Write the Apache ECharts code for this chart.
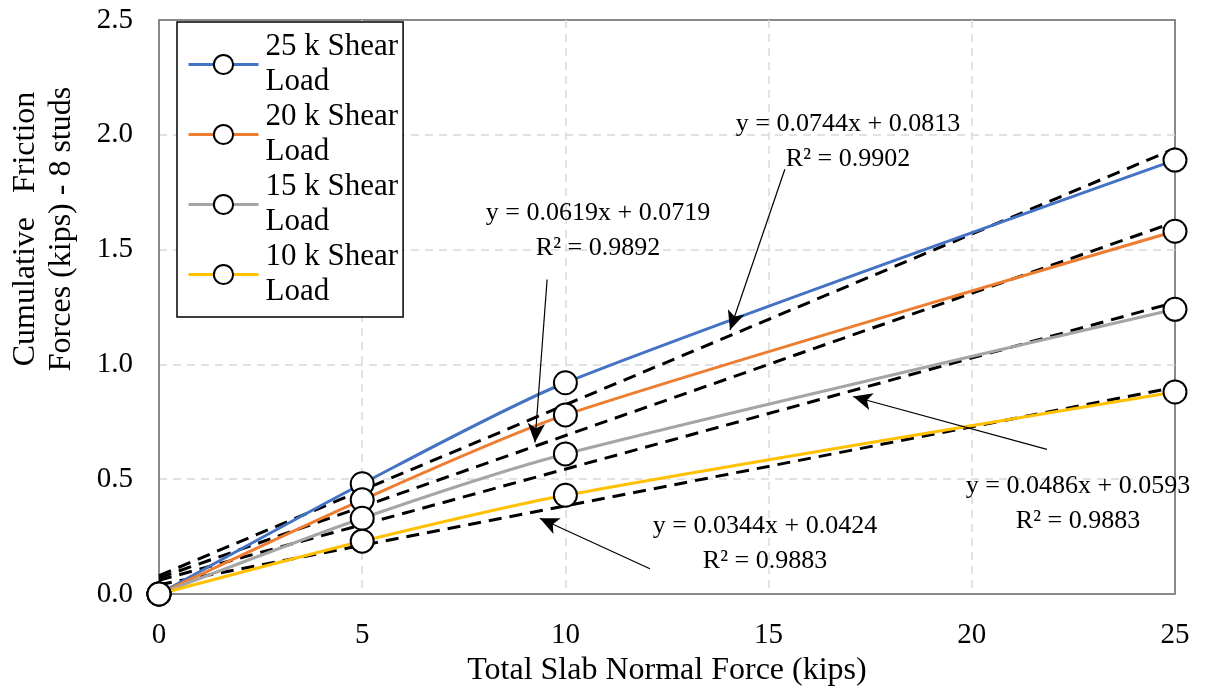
<!DOCTYPE html>
<html>
<head>
<meta charset="utf-8">
<script src="https://cdn.jsdelivr.net/npm/echarts@6/dist/echarts.min.js"></script>
<style>
  html, body { margin: 0; padding: 0; background: #fff; }
  #frictionChart { width: 1225px; height: 690px; }
</style>
</head>
<body>
<div id="frictionChart"></div>
<script>
// 数据
const normalForce = [0, 5, 10, 25];
const seriesNames = ['25 k Shear Load', '20 k Shear Load', '15 k Shear Load', '10 k Shear Load'];
const shear25 = [0, 0.48, 0.92, 1.89];
const shear20 = [0, 0.41, 0.78, 1.58];
const shear15 = [0, 0.33, 0.61, 1.24];
const shear10 = [0, 0.23, 0.43, 0.88];
const colors = ['#4472C4', '#ED7D31', '#A5A5A5', '#FFC000'];

// 趋势线端点 (x = 0 和 x = 25)
const trendX = [0, 25];
const trend25 = [0.08, 1.94];
const trend20 = [0.07, 1.62];
const trend15 = [0.06, 1.27];
const trend10 = [0.04, 0.90];

const eqText = [
  ['y = 0.0744x + 0.0813', 'R² = 0.9902'],
  ['y = 0.0619x + 0.0719', 'R² = 0.9892'],
  ['y = 0.0486x + 0.0593', 'R² = 0.9883'],
  ['y = 0.0344x + 0.0424', 'R² = 0.9883']
];
// 箭头 (起点, 终点) 数据坐标
const arrows = [
  [[15.40, 1.85], [14.05, 1.15]],
  [[9.55, 1.37], [9.25, 0.66]],
  [[21.85, 0.63], [17.08, 0.86]],
  [[12.08, 0.11], [9.37, 0.33]]
];

const font = '"Liberation Serif", "Times New Roman", serif';
const pairs = (xs, ys) => xs.map((x, i) => [x, ys[i]]);
const dataSets = [shear25, shear20, shear15, shear10];
const trendSets = [trend25, trend20, trend15, trend10];

let series = [];
dataSets.forEach((d, i) => {
  series.push({
    name: seriesNames[i],
    type: 'line',
    data: pairs(normalForce, d),
    smooth: 0.25,
    symbol: 'circle',
    symbolSize: 23,
    z: 4,
    lineStyle: { color: colors[i], width: 3 },
    itemStyle: { color: '#fff', borderColor: '#000', borderWidth: 2 }
  });
});
trendSets.forEach((d, i) => {
  series.push({
    name: 'trend' + i,
    type: 'line',
    data: pairs(trendX, d),
    symbol: 'none',
    z: 3,
    silent: true,
    lineStyle: { color: '#000', width: 3, type: [13, 8] }
  });
});
// 箭头
series.push({
  name: 'arrows',
  type: 'line',
  data: [],
  silent: true,
  markLine: {
    silent: true,
    symbol: ['none', 'arrow'],
    symbolSize: [13, 19],
    label: { show: false },
    lineStyle: { color: '#000', width: 1.2, type: 'solid' },
    data: arrows.map(a => [{ coord: a[0] }, { coord: a[1] }])
  }
});

// 公式文字中心位置
const eqPos = [[848, 142], [598, 231], [1078, 504], [765, 544]];
let graphics = [];
eqText.forEach((t, i) => {
  graphics.push({
    type: 'text',
    x: eqPos[i][0],
    y: eqPos[i][1],
    z: 10,
    style: {
      text: t[0] + '\n' + t[1],
      font: '26px ' + font,
      fill: '#000',
      align: 'center',
      verticalAlign: 'middle',
      lineHeight: 35
    }
  });
});

const gridLine = { show: true, showMinLine: false, showMaxLine: false, lineStyle: { color: '#d9d9d9', width: 1.5, type: [8, 6] } };

const option = {
  animation: false,
  backgroundColor: '#fff',
  grid: {
    left: 159, right: 50, top: 20, bottom: 96,
    outerBoundsMode: 'none',
    containLabel: false,
    show: true, borderColor: '#898989', borderWidth: 2
  },
  legend: {
    data: seriesNames,
    left: 177,
    top: 22,
    orient: 'vertical',
    backgroundColor: '#fff',
    borderColor: '#000',
    borderWidth: 1.5,
    borderRadius: 0,
    padding: [-10, 5, -10, 10],
    itemWidth: 70,
    itemHeight: 24,
    itemGap: -35,
    lineStyle: { width: 3 },
    itemStyle: { borderWidth: 2 },
    formatter: n => n.replace(' Load', '\nLoad'),
    textStyle: {
      fontFamily: font,
      fontSize: 31,
      color: '#000',
      lineHeight: 35,
      padding: [35, 0, 0, 2]
    }
  },
  xAxis: {
    type: 'value',
    min: 0, max: 25, interval: 5,
    name: 'Total Slab Normal Force (kips)',
    nameLocation: 'middle',
    nameGap: 44,
    nameTextStyle: { fontFamily: font, fontSize: 32, color: '#000' },
    axisLine: { lineStyle: { color: '#898989', width: 2 } },
    axisTick: { show: false },
    axisLabel: { fontFamily: font, fontSize: 29, color: '#000', margin: 27 },
    splitLine: gridLine
  },
  yAxis: {
    type: 'value',
    min: 0, max: 2.5, interval: 0.5,
    name: 'Cumulative   Friction\nForces (kips) - 8 studs',
    nameLocation: 'middle',
    nameGap: 79,
    nameTextStyle: { fontFamily: font, fontSize: 32, color: '#000', lineHeight: 36, padding: [0, 0, 0, 156] },
    axisLine: { show: true, lineStyle: { color: '#898989', width: 2 } },
    axisTick: { show: false },
    axisLabel: { fontFamily: font, fontSize: 29, color: '#000', margin: 26, formatter: v => v.toFixed(1) },
    splitLine: gridLine
  },
  graphic: graphics,
  series: series
};

const myChart = echarts.init(document.getElementById('frictionChart'));
myChart.setOption(option);
</script>
</body>
</html>
